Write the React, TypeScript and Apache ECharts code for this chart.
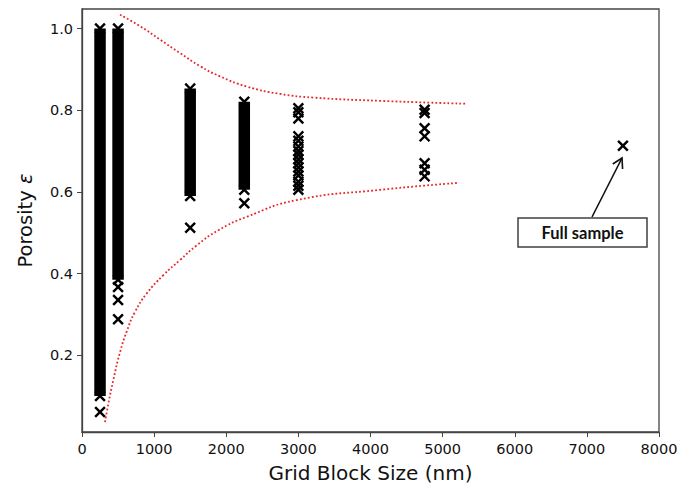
import React, { useEffect, useRef } from "react";
import * as echarts from "echarts";

// Dense columns of overlapping samples (grid size, lowest, highest porosity)
const denseX = [250, 500, 1500, 2250];
const denseLow = [0.1, 0.385, 0.59, 0.605];
const denseHigh = [1.0, 1.0, 0.853, 0.821];

// Individual samples
const pointX = [
  250, 500, 500, 500, 1500, 2250,
  3000, 3000, 3000, 3000, 3000, 3000, 3000, 3000, 3000, 3000, 3000, 3000, 3000, 3000, 3000, 3000,
  4750, 4750, 4750, 4750, 4750, 4750, 4750,
  7500,
];
const pointY = [
  0.061, 0.367, 0.335, 0.288, 0.512, 0.572,
  0.805, 0.795, 0.78, 0.736, 0.725, 0.711, 0.7, 0.691, 0.68, 0.67, 0.66, 0.65, 0.64, 0.625, 0.615, 0.605,
  0.801, 0.793, 0.756, 0.736, 0.67, 0.654, 0.638,
  0.713,
];

// Red dotted envelopes
const upperX = [527, 804, 1082, 1359, 1637, 1914, 2284, 2746, 3208, 4133, 5312];
const upperY = [1.034, 1.006, 0.973, 0.94, 0.908, 0.883, 0.858, 0.84, 0.831, 0.823, 0.816];
const lowerX = [319, 365, 434, 527, 620, 735, 897, 1128, 1359, 1591, 1890, 2284, 2978, 4133, 5215];
const lowerY = [0.036, 0.081, 0.139, 0.207, 0.258, 0.306, 0.351, 0.396, 0.433, 0.469, 0.506, 0.539, 0.58, 0.605, 0.622];

const xTicks = [0, 1000, 2000, 3000, 4000, 5000, 6000, 7000, 8000];
const yTicks = [0.2, 0.4, 0.6, 0.8, 1.0];

const X_SYMBOL =
  "path://M0,1.5L1.5,0L5,3.5L8.5,0L10,1.5L6.5,5L10,8.5L8.5,10L5,6.5L1.5,10L0,8.5L3.5,5Z";

export default function App() {
  const ref = useRef<HTMLDivElement>(null);
  useEffect(() => {
    if (!ref.current) return;
    const chart = echarts.init(ref.current, undefined, { renderer: "svg" });

    const scatterData: number[][] = [];
    denseX.forEach((x, i) => {
      scatterData.push([x, denseLow[i]]);
      scatterData.push([x, denseHigh[i]]);
    });
    pointX.forEach((x, i) => scatterData.push([x, pointY[i]]));

    // arrow geometry
    const tip = [622, 158];
    const tail = [592, 217];
    const dx = tip[0] - tail[0];
    const dy = tip[1] - tail[1];
    const len = Math.hypot(dx, dy);
    const bx = -dx / len;
    const by = -dy / len;
    const a = Math.PI / 6;
    const hl = 11;
    const arm1 = [tip[0] + hl * (Math.cos(a) * bx - Math.sin(a) * by), tip[1] + hl * (Math.sin(a) * bx + Math.cos(a) * by)];
    const arm2 = [tip[0] + hl * (Math.cos(-a) * bx - Math.sin(-a) * by), tip[1] + hl * (Math.sin(-a) * bx + Math.cos(-a) * by)];

    const font = "'DejaVu Sans', sans-serif";
    const ink = "#111";
    const red = "#e8262a";
    chart.setOption({
      animation: false,
      backgroundColor: "#fff",
      grid: {
        left: 82,
        right: 23,
        top: 9,
        bottom: 57,
        show: true,
        borderColor: "#444",
        borderWidth: 1.3,
        backgroundColor: "transparent",
      },
      xAxis: {
        type: "value",
        min: 0,
        max: 8000,
        interval: 1000,
        name: "Grid Block Size (nm)",
        nameLocation: "middle",
        nameGap: 31,
        nameTextStyle: { fontFamily: font, fontSize: 20, color: ink },
        axisLine: { show: true, onZero: false, lineStyle: { color: "#444", width: 1.3 } },
        axisTick: { show: true, length: 5, lineStyle: { color: "#444" } },
        axisLabel: {
          margin: 9,
          fontFamily: font,
          fontSize: 14.5,
          color: ink,
          formatter: (v: number) => (xTicks.includes(v) ? String(v) : ""),
        },
        splitLine: { show: false },
      },
      yAxis: {
        type: "value",
        min: 0.0118,
        max: 1.048,
        name: "Porosity {e|ε}",
        nameLocation: "middle",
        nameGap: 47,
        nameTextStyle: {
          fontFamily: font,
          fontSize: 19.5,
          color: ink,
          rich: { e: { fontFamily: font, fontStyle: "italic", fontSize: 19.5, color: ink } },
        },
        axisLine: { show: true, onZero: false, lineStyle: { color: "#444", width: 1.3 } },
        axisTick: { show: true, length: 5, lineStyle: { color: "#444" }, customValues: yTicks },
        axisLabel: {
          margin: 9,
          fontFamily: font,
          fontSize: 14.5,
          color: ink,
          customValues: yTicks,
          formatter: (v: number) => v.toFixed(1),
        },
        splitLine: { show: false },
      },
      series: [
        {
          type: "custom",
          silent: true,
          data: denseX.map((x, i) => [x, denseLow[i], denseHigh[i]]),
          renderItem: (params: any, api: any) => {
            const x = api.value(0);
            const p1 = api.coord([x, api.value(2)]);
            const p2 = api.coord([x, api.value(1)]);
            const w = 11.5;
            return {
              type: "rect",
              shape: { x: p1[0] - w / 2, y: p1[1], width: w, height: p2[1] - p1[1] },
              style: { fill: "#000" },
            };
          },
          z: 2,
        },
        {
          type: "scatter",
          data: scatterData,
          symbol: X_SYMBOL,
          symbolSize: 11.5,
          itemStyle: { color: "#000", opacity: 1 },
          z: 3,
        },
        {
          type: "line",
          data: upperX.map((x, i) => [x, upperY[i]]),
          smooth: 0.5,
          showSymbol: false,
          symbol: "none",
          lineStyle: { color: red, width: 1.8, type: [1.8, 2.2] },
          z: 4,
        },
        {
          type: "line",
          data: lowerX.map((x, i) => [x, lowerY[i]]),
          smooth: 0.5,
          showSymbol: false,
          symbol: "none",
          lineStyle: { color: red, width: 1.8, type: [1.8, 2.2] },
          z: 4,
        },
      ],
      graphic: [
        {
          type: "rect",
          shape: { x: 518, y: 218, width: 129, height: 29 },
          style: { fill: "#fff", stroke: "#404040", lineWidth: 1.5 },
          z: 10,
        },
        {
          type: "text",
          x: 582.5,
          y: 233,
          style: {
            text: "Full sample",
            fontFamily: "Lato, 'Open Sans', sans-serif",
            fontWeight: "bold",
            fontSize: 16.5,
            fill: "#111",
            align: "center",
            verticalAlign: "middle",
          },
          z: 11,
        },
        {
          type: "line",
          shape: { x1: tail[0], y1: tail[1], x2: tip[0], y2: tip[1] },
          style: { stroke: "#111", lineWidth: 1.6 },
          z: 10,
        },
        {
          type: "polyline",
          shape: { points: [arm1, tip, arm2] },
          style: { stroke: "#111", lineWidth: 1.6, fill: null },
          z: 10,
        },
      ],
    });
    return () => chart.dispose();
  }, []);
  return <div ref={ref} style={{ width: 682, height: 489, position: "absolute", left: 0, top: 0 }} />;
}
